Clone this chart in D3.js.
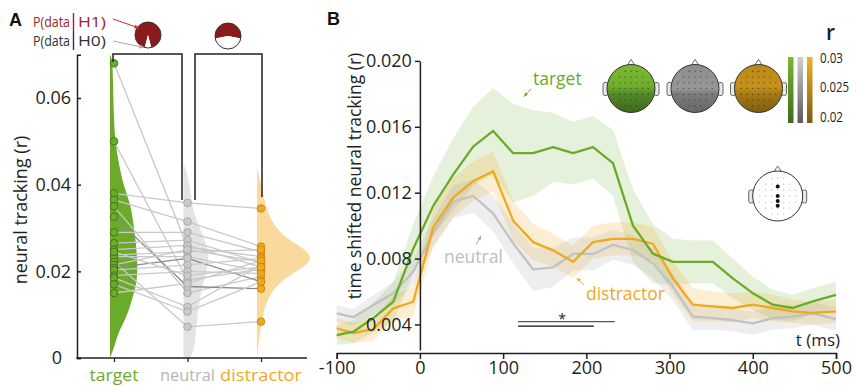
<!DOCTYPE html>
<html><head><meta charset="utf-8">
<script src="https://cdn.jsdelivr.net/npm/d3@7"></script>
<style>
body{margin:0;background:#fff;}
svg{display:block;font-family:"Open Sans",sans-serif;}
</style></head><body>
<svg id="chart" width="857" height="386"></svg>
<script>
// ---------------- DATA ----------------
const categories = ["target", "neutral", "distractor"];
const targetVals     = [0.068, 0.050, 0.038, 0.0365, 0.035, 0.0326, 0.029, 0.0265, 0.025, 0.0238, 0.0234, 0.0222, 0.0215, 0.0208, 0.0203, 0.019, 0.0185, 0.017, 0.015, 0.0245];
const neutralVals    = [0.0256, 0.018, 0.0358, 0.0315, 0.015, 0.0165, 0.029, 0.0272, 0.026, 0.0245, 0.0234, 0.0072, 0.025, 0.023, 0.0215, 0.020, 0.0118, 0.0107, 0.0172, 0.019];
const distractorVals = [0.0234, 0.0205, 0.0345, 0.0257, 0.0188, 0.016, 0.0245, 0.022, 0.021, 0.025, 0.020, 0.0084, 0.0222, 0.0176, 0.023, 0.0195, 0.0215, 0.0176, 0.0225, 0.021];
const darkSubjects = [5, 13];
// violin profiles: value levels and relative density
const targetViolinR = [0, 0.003, 0.0057, 0.0095, 0.0134, 0.0173, 0.021, 0.024, 0.028, 0.0318, 0.0358, 0.0395, 0.0434, 0.0473, 0.051, 0.055, 0.063, 0.069, 0.070];
const targetViolinD = [0, 0.09, 0.14, 0.30, 0.39, 0.48, 0.49, 0.48, 0.45, 0.41, 0.36, 0.25, 0.18, 0.125, 0.09, 0.07, 0.055, 0.045, 0];
const neutralViolinR = [0, 0.002, 0.005, 0.0095, 0.013, 0.0173, 0.021, 0.0235, 0.026, 0.0303, 0.034, 0.038, 0.042, 0.045];
const neutralViolinD = [0.12, 0.19, 0.21, 0.25, 0.28, 0.35, 0.43, 0.45, 0.42, 0.28, 0.17, 0.13, 0.08, 0];
const distractorViolinR = [0, 0.004, 0.0075, 0.011, 0.0134, 0.0172, 0.020, 0.0225, 0.025, 0.028, 0.032, 0.036, 0.040, 0.044];
const distractorViolinD = [0, 0.036, 0.07, 0.125, 0.18, 0.36, 0.71, 1, 0.89, 0.46, 0.23, 0.14, 0.07, 0];
const bayesH0Share = [0.08, 0.44];   // white share of each Bayes pie
const yTicksA = [0, 0.02, 0.04, 0.06];

// time courses
const times = [-100, -80, -56, -32, -8, 16, 40, 64, 88, 112, 136, 160, 184, 208, 232, 256, 280, 304, 328, 352, 376, 400, 424, 448, 472, 500];
const targetMean = [0.00336, 0.00356, 0.00439, 0.00538, 0.0086, 0.0112, 0.0131, 0.0148, 0.01575, 0.0144, 0.0144, 0.01476, 0.0144, 0.01476, 0.0138, 0.0100, 0.0083, 0.0078, 0.0078, 0.0078, 0.0068, 0.0059, 0.0052, 0.0050, 0.0054, 0.0058];
const targetSE = [0.0006, 0.0007, 0.0009, 0.0012, 0.0015, 0.0018, 0.0022, 0.0024, 0.0026, 0.0030, 0.0026, 0.0021, 0.0019, 0.0019, 0.0020, 0.0022, 0.0018, 0.0014, 0.0013, 0.0013, 0.0012, 0.0010, 0.0009, 0.0008, 0.0008, 0.0008];
const distractorMean = [0.00377, 0.00347, 0.00371, 0.00498, 0.00538, 0.0099, 0.0117, 0.0127, 0.0133, 0.0103, 0.0090, 0.0085, 0.0078, 0.0090, 0.0092, 0.0092, 0.0089, 0.0068, 0.0052, 0.0051, 0.0050, 0.0052, 0.0050, 0.0048, 0.0047, 0.0048];
const distractorSE = [0.0006, 0.0006, 0.0007, 0.0008, 0.0009, 0.0011, 0.0012, 0.0012, 0.0012, 0.0012, 0.0011, 0.0010, 0.0010, 0.0010, 0.0010, 0.0010, 0.0010, 0.0010, 0.0010, 0.0009, 0.0009, 0.0008, 0.0008, 0.0007, 0.0007, 0.0007];
const neutralMean = [0.00468, 0.00444, 0.00518, 0.00589, 0.0072, 0.00954, 0.01145, 0.0118, 0.01075, 0.00893, 0.00735, 0.00747, 0.00828, 0.00828, 0.00883, 0.00852, 0.00771, 0.00629, 0.00447, 0.00438, 0.00427, 0.00407, 0.00438, 0.00447, 0.00468, 0.00432];
const neutralSE = [0.0005, 0.0005, 0.0006, 0.0007, 0.0008, 0.0009, 0.0010, 0.0010, 0.0011, 0.0012, 0.0013, 0.0012, 0.0010, 0.0010, 0.0009, 0.0009, 0.0009, 0.0008, 0.0008, 0.0007, 0.0007, 0.0007, 0.0007, 0.0007, 0.0007, 0.0007];
const sigStart = [118, 118];
const sigEnd = [234, 209];
const xTicksB = [-100, 0, 100, 200, 300, 400, 500];
const yTicksB = [0.004, 0.008, 0.012, 0.016, 0.020];
const colorbarTicks = ["0.03", "0.025", "0.02"];

// ---------------- STYLE ----------------
const INK = "#231f20";
const GREEN = "#6aab2a", GRAY = "#c2c2c2", ORANGE = "#f0a81e", DARKRED = "#8b1a1a";
const svg = d3.select("#chart");
const defs = svg.append("defs");

// ================= PANEL A =================
const yA = d3.scaleLinear().domain([0, 0.07]).range([358, 54.7]);
const xA = d3.scalePoint().domain(categories).range([114, 261]);
const wA = d3.scaleLinear().domain([0, 1]).range([0, 56]);
const violins = [
  {cat: "target", r: targetViolinR, d: targetViolinD, fill: GREEN},
  {cat: "neutral", r: neutralViolinR, d: neutralViolinD, fill: "#e3e3e3"},
  {cat: "distractor", r: distractorViolinR, d: distractorViolinD, fill: "#f9d99c"}
];
violins.forEach(v => {
  const base = xA(v.cat) - 4;
  const pts = v.r.map((r, i) => [r, v.d[i]]);
  const area = d3.area().curve(d3.curveBasis)
    .y(d => yA(d[0])).x0(base).x1(d => base + wA(d[1]));
  svg.append("path").attr("d", area(pts)).attr("fill", v.fill);
});

const subj = targetVals.map((t, i) => [
  [xA("target"), yA(t)], [xA("neutral"), yA(neutralVals[i])], [xA("distractor"), yA(distractorVals[i])]
]);
svg.append("g").selectAll("path").data(subj).join("path")
  .attr("d", d3.line()).attr("fill", "none")
  .attr("stroke", (d, i) => darkSubjects.includes(i) ? "#8a8a8a" : "#c9c9c9")
  .attr("stroke-width", 1.3);

const dotSets = [
  {cat: "target", vals: targetVals, fill: GREEN, stroke: "#3f6e1c"},
  {cat: "neutral", vals: neutralVals, fill: "#cacaca", stroke: "#a5a5a5"},
  {cat: "distractor", vals: distractorVals, fill: ORANGE, stroke: "#c48612"}
];
dotSets.forEach(s => {
  svg.append("g").selectAll("circle").data(s.vals).join("circle")
    .attr("cx", xA(s.cat)).attr("cy", d => yA(d)).attr("r", 3.8)
    .attr("fill", s.fill).attr("stroke", s.stroke).attr("stroke-width", 0.9);
});

// axes A
const gyA = svg.append("g").attr("transform", "translate(77,0)")
  .call(d3.axisLeft(yA).tickValues(yTicksA).tickSizeInner(-4).tickSizeOuter(-4).tickPadding(6)
    .tickFormat(d => d === 0 ? "0" : d3.format(".2f")(d)));
gyA.selectAll("path,line").attr("stroke", INK).attr("stroke-width", 1.5);
gyA.selectAll("text").attr("font-size", 18).attr("fill", INK).attr("font-family", "Open Sans");
gyA.selectAll(".tick").filter(d => d === 0).select("text").attr("x", -15);

svg.append("line").attr("x1", 76.3).attr("x2", 307).attr("y1", 358).attr("y2", 358)
  .attr("stroke", INK).attr("stroke-width", 1.5);
const gxA = svg.append("g").attr("transform", "translate(0,358)")
  .call(d3.axisBottom(xA).tickSize(4).tickFormat(""));
gxA.select(".domain").remove();
gxA.selectAll("line").attr("stroke", INK).attr("stroke-width", 1.3);
const catColors = {target: GREEN, neutral: "#b5b5b5", distractor: ORANGE};
const catWidths = {target: 49, neutral: 55, distractor: 82};
svg.append("g").selectAll("text").data(categories).join("text")
  .attr("x", d => xA(d)).attr("y", 381).attr("text-anchor", "middle")
  .attr("font-size", 17).attr("fill", d => catColors[d])
  .attr("textLength", d => catWidths[d]).attr("lengthAdjust", "spacingAndGlyphs").text(d => d);

svg.append("text").attr("transform", "translate(27,210) rotate(-90)")
  .attr("text-anchor", "middle").attr("font-size", 18).attr("fill", INK)
  .text("neural tracking (r)");

// brackets
svg.append("path").attr("d", `M${xA("target") - 1},62V54H182V200`)
  .attr("fill", "none").attr("stroke", INK).attr("stroke-width", 1.5);
svg.append("path").attr("d", `M195,200V54H${xA("distractor") + 1}V197`)
  .attr("fill", "none").attr("stroke", INK).attr("stroke-width", 1.5);

// Bayes pies
const pieCenters = [[148, 35], [228, 36]];
bayesH0Share.forEach((f, i) => {
  const pie = d3.pie().sort(null).startAngle(Math.PI * (1 + f)).endAngle(Math.PI * (3 + f));
  const arcs = pie([1 - f, f]);
  const arc = d3.arc().innerRadius(0).outerRadius(13);
  const g = svg.append("g").attr("transform", `translate(${pieCenters[i]})`);
  g.selectAll("path").data(arcs).join("path").attr("d", arc)
    .attr("fill", (d, j) => j === 0 ? DARKRED : "#fff");
  g.append("circle").attr("r", 13).attr("fill", "none").attr("stroke", "#333").attr("stroke-width", 1);
});

function marker(id, color) {
  defs.append("marker").attr("id", id).attr("viewBox", "0 0 10 10").attr("refX", 9).attr("refY", 5)
    .attr("markerWidth", 5).attr("markerHeight", 5).attr("orient", "auto")
    .append("path").attr("d", "M0,1L10,5L0,9z").attr("fill", color);
}
marker("arrRed", "#d02a2a"); marker("arrGray", "#a8a8a8");
marker("arrGreen", GREEN); marker("arrNeutral", "#a8a8a8"); marker("arrOrange", ORANGE);

svg.append("text").attr("x", 9).attr("y", 26).attr("font-size", 18).attr("font-weight", 700)
  .attr("font-family", "Liberation Sans, Arial").attr("fill", "#111").text("A");
const pLab = [{t1: "P(data", t2: "H1)", y: 27, c: "#a3231f"}, {t1: "P(data", t2: "H0)", y: 45.5, c: "#333"}];
pLab.forEach(p => {
  const t = svg.append("text").attr("y", p.y).attr("font-size", 14.5).attr("fill", p.c);
  t.append("tspan").attr("x", 33).attr("textLength", 37).attr("lengthAdjust", "spacingAndGlyphs").text(p.t1);
  t.append("tspan").attr("x", 78).attr("textLength", 28).attr("lengthAdjust", "spacingAndGlyphs").text(p.t2);
});
svg.append("line").attr("x1", 73.5).attr("x2", 73.5).attr("y1", 13).attr("y2", 31).attr("stroke", "#a3231f").attr("stroke-width", 1.4);
svg.append("line").attr("x1", 73.5).attr("x2", 73.5).attr("y1", 31).attr("y2", 50).attr("stroke", "#333").attr("stroke-width", 1.4);
svg.append("line").attr("x1", 113).attr("y1", 19).attr("x2", 139).attr("y2", 28)
  .attr("stroke", "#d02a2a").attr("stroke-width", 1).attr("marker-end", "url(#arrRed)");
svg.append("line").attr("x1", 113).attr("y1", 41).attr("x2", 144).attr("y2", 47.5)
  .attr("stroke", "#a8a8a8").attr("stroke-width", 1).attr("marker-end", "url(#arrGray)");

// ================= PANEL B =================
const xB = d3.scaleLinear().domain([-100, 500]).range([336.7, 836]);
const yB = d3.scaleLinear().domain([0.00245, 0.020]).range([350, 60.9]);

const series = [
  {mean: targetMean, se: targetSE, color: GREEN, band: "rgba(106,171,42,0.17)"},
  {mean: distractorMean, se: distractorSE, color: ORANGE, band: "rgba(240,168,30,0.2)"},
  {mean: neutralMean, se: neutralSE, color: GRAY, band: "rgba(170,170,170,0.2)"}
];
series.forEach(s => {
  const pts = times.map((t, i) => ({t, m: s.mean[i], e: s.se[i]}));
  svg.append("path").datum(pts)
    .attr("d", d3.area().x(d => xB(d.t)).y0(d => yB(d.m - d.e)).y1(d => yB(d.m + d.e)))
    .attr("fill", s.band);
});
[series[2], series[1], series[0]].forEach(s => {
  const pts = times.map((t, i) => ({t, m: s.mean[i]}));
  svg.append("path").datum(pts)
    .attr("d", d3.line().x(d => xB(d.t)).y(d => yB(d.m)))
    .attr("fill", "none").attr("stroke", s.color).attr("stroke-width", 2.3).attr("stroke-linejoin", "round");
});

// significance bars
sigStart.forEach((s, i) => {
  svg.append("line").attr("x1", xB(s)).attr("x2", xB(sigEnd[i]))
    .attr("y1", 321.7 + i * 4.5).attr("y2", 321.7 + i * 4.5)
    .attr("stroke", i === 0 ? "#555" : "#111").attr("stroke-width", 1.3);
});
svg.append("text").attr("x", xB(171)).attr("y", 324).attr("text-anchor", "middle")
  .attr("font-size", 14).attr("fill", INK).text("*");

// axes B
const gyB = svg.append("g").attr("transform", `translate(${xB(0)},0)`)
  .call(d3.axisLeft(yB).tickValues(yTicksB).tickSizeInner(5).tickSizeOuter(0).tickPadding(3)
    .tickFormat(d3.format(".3f")));
gyB.selectAll("path,line").attr("stroke", INK).attr("stroke-width", 1.5);
gyB.selectAll("text").attr("font-size", 18).attr("fill", INK).attr("font-family", "Open Sans");

const gxB = svg.append("g").attr("transform", "translate(0,353)")
  .call(d3.axisBottom(xB).tickValues(xTicksB).tickSizeInner(6).tickSizeOuter(6).tickPadding(2)
    .tickFormat(d => String(d)));
gxB.selectAll("path,line").attr("stroke", INK).attr("stroke-width", 1.5);
gxB.selectAll("text").attr("font-size", 18).attr("fill", INK).attr("font-family", "Open Sans");

svg.append("text").attr("transform", "translate(361,176) rotate(-90)")
  .attr("text-anchor", "middle").attr("font-size", 17.5).attr("fill", INK)
  .text("time shifted neural tracking (r)");
svg.append("text").attr("x", 840).attr("y", 346).attr("text-anchor", "end")
  .attr("font-size", 17).attr("fill", INK).text("t (ms)");
svg.append("text").attr("x", 327).attr("y", 25).attr("font-size", 18).attr("font-weight", 700)
  .attr("font-family", "Liberation Sans, Arial").attr("fill", "#111").text("B");

// labels
svg.append("text").attr("x", 533).attr("y", 85).attr("font-size", 17.5).attr("fill", GREEN).text("target");
svg.append("line").attr("x1", 531).attr("y1", 89).attr("x2", 524).attr("y2", 96.5)
  .attr("stroke", GREEN).attr("stroke-width", 0.9).attr("marker-end", "url(#arrGreen)");
svg.append("text").attr("x", 444).attr("y", 263).attr("font-size", 17.5).attr("fill", "#bdbdbd").text("neutral");
svg.append("line").attr("x1", 476).attr("y1", 245).attr("x2", 481).attr("y2", 236)
  .attr("stroke", "#a8a8a8").attr("stroke-width", 0.9).attr("marker-end", "url(#arrNeutral)");
svg.append("text").attr("x", 586).attr("y", 300).attr("font-size", 17.5).attr("fill", ORANGE).text("distractor");
svg.append("line").attr("x1", 584).attr("y1", 285).attr("x2", 577).attr("y2", 278)
  .attr("stroke", ORANGE).attr("stroke-width", 0.9).attr("marker-end", "url(#arrOrange)");

// topoplots
function grad(id, stops) {
  const lg = defs.append("linearGradient").attr("id", id).attr("x1", 0).attr("y1", 0).attr("x2", 0).attr("y2", 1);
  stops.forEach(s => lg.append("stop").attr("offset", s[0]).attr("stop-color", s[1]));
}
grad("gHeadGreen", [[0, "#7ab833"], [0.45, "#6fae2c"], [0.62, "#55872a"], [1, "#3d6a1c"]]);
grad("gHeadGray", [[0, "#8c8c8c"], [0.5, "#979797"], [0.62, "#7a7a7a"], [1, "#676767"]]);
grad("gHeadOrange", [[0, "#b98814"], [0.45, "#c7921b"], [0.62, "#a47a14"], [1, "#7e5c0f"]]);
grad("cbGreen", [[0, "#78ba30"], [1, "#3d6a1c"]]);
grad("cbGray", [[0, "#cfcfcf"], [1, "#5a5a5a"]]);
grad("cbOrange", [[0, "#f2b020"], [1, "#7c5a10"]]);

const elecGrid = [];
[-0.72, -0.48, -0.24, 0, 0.24, 0.48, 0.72].forEach(yy =>
  [-0.72, -0.48, -0.24, 0, 0.24, 0.48, 0.72].forEach(xx => { if (xx * xx + yy * yy < 0.72) elecGrid.push([xx, yy]); }));

function head(cx, cy, r, fill, dotColor) {
  const g = svg.append("g").attr("transform", `translate(${cx},${cy})`);
  g.append("rect").attr("x", -r - 4).attr("y", -6).attr("width", 5).attr("height", 13).attr("rx", 2)
    .attr("fill", "#e8e8e8").attr("stroke", "#444").attr("stroke-width", 0.8);
  g.append("rect").attr("x", r - 1).attr("y", -6).attr("width", 5).attr("height", 13).attr("rx", 2)
    .attr("fill", "#e8e8e8").attr("stroke", "#444").attr("stroke-width", 0.8);
  g.append("path").attr("d", `M-4,${-r + 1}L0,${-r - 5}L4,${-r + 1}`)
    .attr("fill", "#fff").attr("stroke", "#444").attr("stroke-width", 0.8);
  g.append("circle").attr("r", r).attr("fill", fill).attr("stroke", "#333").attr("stroke-width", 1);
  g.selectAll("circle.e").data(elecGrid).join("circle").attr("class", "e")
    .attr("cx", d => d[0] * r).attr("cy", d => d[1] * r).attr("r", 0.6).attr("fill", dotColor);
  return g;
}
head(631, 88.5, 24, "url(#gHeadGreen)", "#2a3a10");
head(695, 88.5, 24, "url(#gHeadGray)", "#333");
head(758.5, 88.5, 24, "url(#gHeadOrange)", "#3a2a08");
const hl = head(777.7, 196, 25, "#fff", "#999");
[[0, -0.38], [0, 0], [0, 0.2], [0, 0.39]].forEach(p =>
  hl.append("circle").attr("cx", p[0] * 25).attr("cy", p[1] * 25).attr("r", 2).attr("fill", "#111"));

// colorbars
[["cbGreen", 788], ["cbGray", 797.5], ["cbOrange", 807]].forEach(c =>
  svg.append("rect").attr("x", c[1]).attr("y", 57).attr("width", 5.5).attr("height", 66).attr("fill", `url(#${c[0]})`));
const yCb = d3.scalePoint().domain(colorbarTicks).range([62.5, 122]);
const cbWidths = {"0.03": 23, "0.025": 29, "0.02": 23};
svg.append("g").selectAll("text").data(colorbarTicks).join("text")
  .attr("x", 820).attr("y", d => yCb(d)).attr("font-size", 14)
  .attr("textLength", d => cbWidths[d]).attr("lengthAdjust", "spacingAndGlyphs")
  .attr("fill", INK).text(d => d);
svg.append("text").attr("x", 826).attr("y", 40).attr("font-size", 21).attr("font-weight", 600)
  .attr("fill", INK).text("r");
</script></body></html>
